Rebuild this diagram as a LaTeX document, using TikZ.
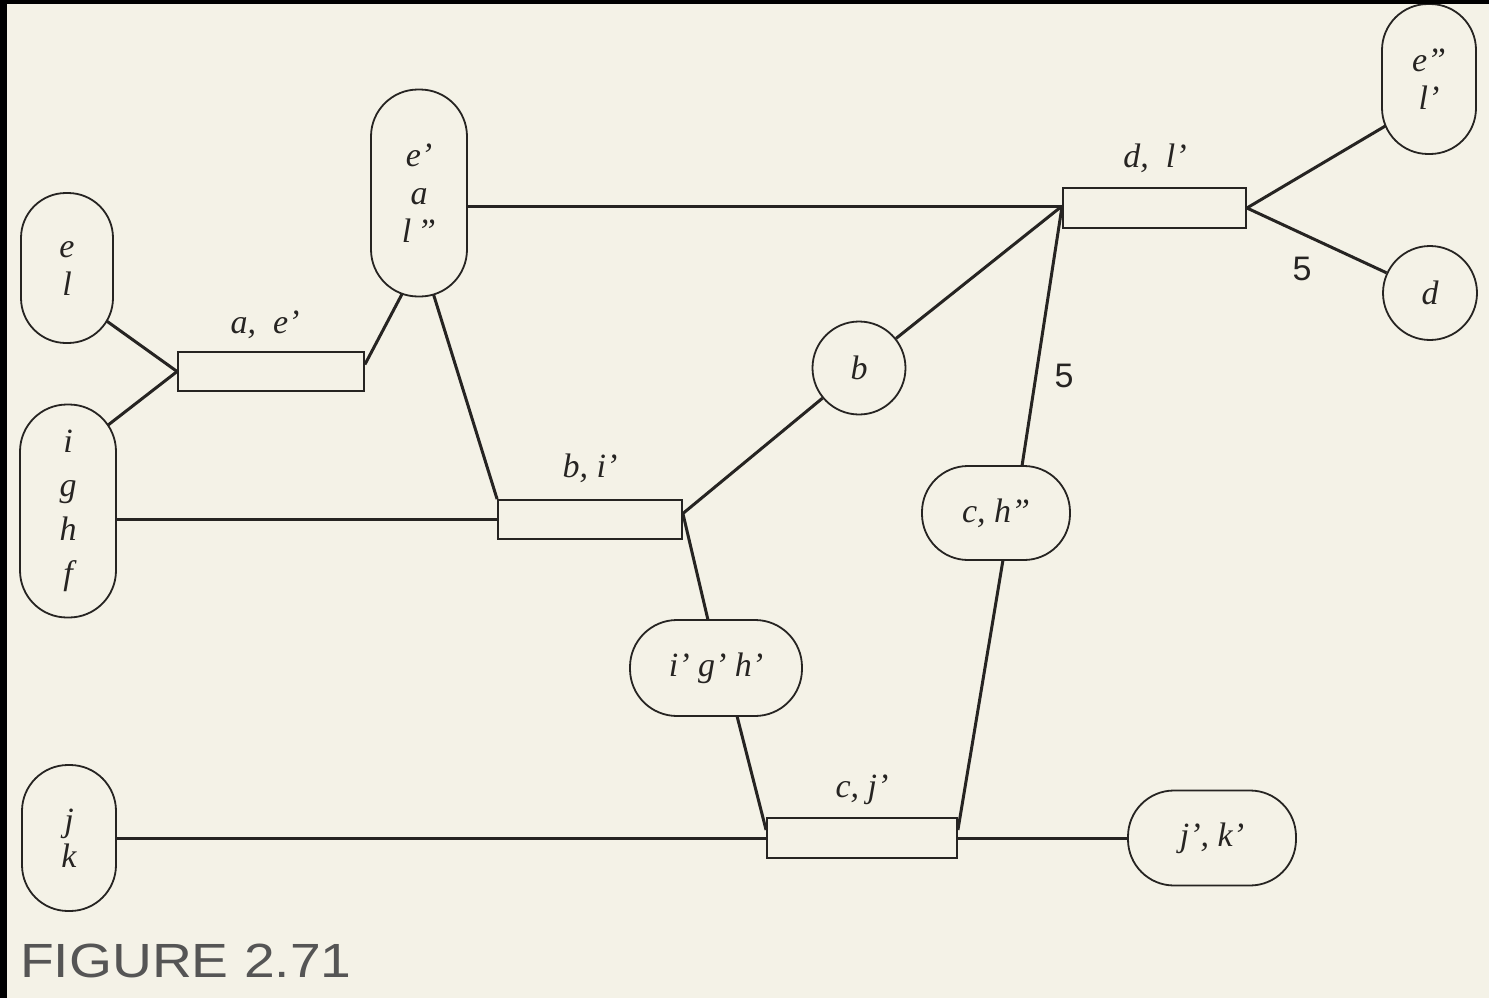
\documentclass[tikz,border=0pt]{standalone}
\usepackage{fontspec}
\setmainfont{Liberation Serif}
\newfontfamily\capfont{Liberation Sans}
\usetikzlibrary{calc}
\definecolor{paper}{RGB}{244,242,231}
\definecolor{ink}{RGB}{38,36,34}
\definecolor{capgray}{RGB}{85,85,85}
\pgfdeclarelayer{paperlayer}
\pgfdeclarelayer{linelayer}
\pgfsetlayers{paperlayer,linelayer,main}
\begin{document}
\begin{tikzpicture}[x=1pt,y=-1pt,
  lab/.style={font=\fontsize{34}{38}\selectfont\itshape, text=ink},
  stad/.style={draw=ink, line width=1.8pt, fill=paper, inner sep=0pt, align=center, lab},
  circ/.style={circle, draw=ink, line width=1.8pt, fill=paper, inner sep=0pt, lab},
  bar/.style={draw=ink, line width=1.8pt, fill=paper, inner sep=0pt, minimum height=39pt},
  conn/.style={draw=ink, line width=3pt},
  intoend/.style={shorten >=-12pt},
  intostart/.style={shorten <=-12pt},
  num/.style={font=\capfont\fontsize{34}{34}\selectfont, text=ink}]
\useasboundingbox (0,0) rectangle (1489,998);
\begin{pgfonlayer}{paperlayer}
  \fill[paper] (0,0) rectangle (1489,998);
\end{pgfonlayer}

% rounded nodes
\node[stad, minimum width=92pt, minimum height=150pt, rounded corners=45pt, text depth=0pt] (el) at (67,268) {e\\l};
\node[stad, minimum width=96pt, minimum height=213pt, rounded corners=47pt, font=\fontsize{34}{44}\selectfont\itshape] (ighf) at (68,511) {i\\g\\h\\f};
\node[stad, minimum width=96pt, minimum height=207pt, rounded corners=47pt] (eal) at (419,193) {e'\\a\\l\,''};
\node[stad, minimum width=94pt, minimum height=150pt, rounded corners=46pt] (ell) at (1429,79) {e''\\l'};
\node[stad, minimum width=94pt, minimum height=146pt, rounded corners=46pt, font=\fontsize{34}{36}\selectfont\itshape] (jk) at (69,838) {j\\k};
\node[stad, minimum width=148pt, minimum height=94pt, rounded corners=46pt] (ch) at (996,513) {c, h''};
\node[stad, minimum width=172pt, minimum height=96pt, rounded corners=47pt] (igh) at (716,668) {i' g' h'};
\node[stad, minimum width=168pt, minimum height=95pt, rounded corners=46pt] (jpk) at (1212,838) {j', k'};
\node[circ, minimum size=93pt] (b) at (859,368) {b};
\node[circ, minimum size=94pt] (d) at (1430,293) {d};

% bars
\node[bar, minimum width=186pt] (ae) at (271,371.5) {};
\node[bar, minimum width=184pt] (bi) at (590,519.5) {};
\node[bar, minimum width=183pt, minimum height=40pt] (dl) at (1154.5,208) {};
\node[bar, minimum width=190pt, minimum height=40pt] (cj) at (862,838) {};

% bar labels
\node[lab] (ael) at (265,325) {a,\ \ e'};
\node[lab] (bil) at (590,468) {b,\ i'};
\node[lab] (dll) at (1155,158) {d,\ \ l'};
\node[lab] (cjl) at (862,790) {c,\ j'};
\node[num] (n1) at (1064,376) {5};
\node[num] (n2) at (1302,269) {5};

% junction points
\coordinate (dj) at ($(dl.west)+(0,-2)$);
\coordinate (bj) at ($(bi.east)+(0,-6)$);
\coordinate (aej) at ($(ae.east)+(0,-7)$);

\begin{pgfonlayer}{linelayer}
  \draw[conn, intoend] (ae.west) -- ($(el.center)+(41,54)$);
  \draw[conn, intoend] (ae.west) -- ($(ighf.center)+(44,-89)$);
  \draw[conn, intoend] (aej) -- ($(eal.center)+(-18,103)$);
  \draw[conn, intostart] ($(eal.center)+(15,103)$) -- (bi.north west);
  \draw[conn] (dj) -- (dj -| eal.center);
  \draw[conn] (bi.west) -- (bi.west -| ighf.center);
  \draw[conn] (bj) -- (b);
  \draw[conn, intoend] (bj) -- ($(igh.center)+(-8,-48)$);
  \draw[conn] (b) -- (dj);
  \draw[conn, intoend] (dj) -- ($(ch.center)+(26,-47)$);
  \draw[conn, intostart] ($(ch.center)+(7,47)$) -- ($(cj.east)+(0,-8)$);
  \draw[conn, intostart] ($(igh.center)+(21,48)$) -- ($(cj.west)+(0,-8)$);
  \draw[conn] (cj.west) -- (cj.west -| jk.center);
  \draw[conn] (cj.east) -- (jpk);
  \draw[conn, intoend] (dl.east) -- ($(ell.center)+(-42,46)$);
  \draw[conn] (dl.east) -- (d);
\end{pgfonlayer}

% caption
\node[anchor=west, font=\capfont\fontsize{48}{48}\selectfont, text=capgray, xscale=1.15, inner sep=0pt] (cap) at (20,961) {FIGURE 2.71};

% black scan borders
\fill[black] (0,0) rectangle (1489,4);
\fill[black] (0,0) rectangle (7,998);
\end{tikzpicture}
\end{document}
